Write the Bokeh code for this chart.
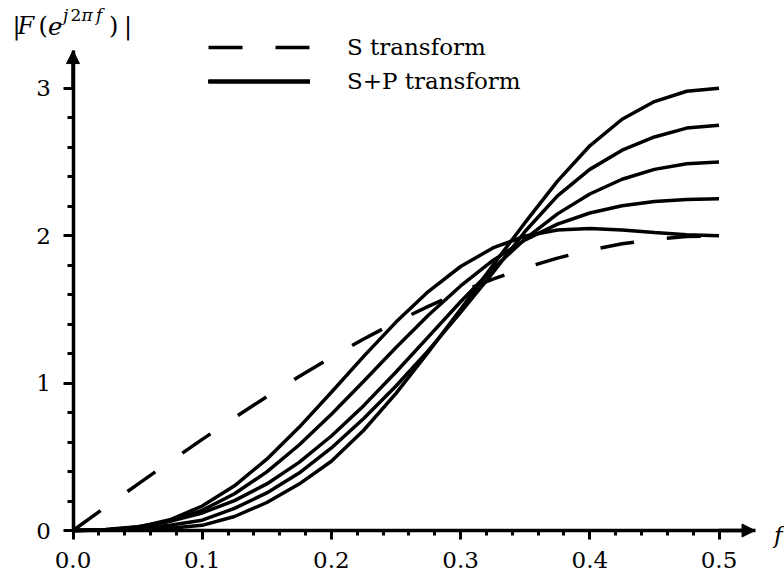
from bokeh.plotting import figure
from bokeh.models import (Range1d, FixedTicker, Legend, LegendItem, Label,
                          Arrow, NormalHead, PrintfTickFormatter)
from bokeh.embed import file_html
from bokeh.resources import INLINE

# ---- data ----
freq = [0.0, 0.025, 0.05, 0.075, 0.1, 0.125, 0.15, 0.175, 0.2, 0.225, 0.25,
        0.275, 0.3, 0.325, 0.35, 0.375, 0.4, 0.425, 0.45, 0.475, 0.5]

s_transform = [0.0, 0.157, 0.313, 0.467, 0.618, 0.765, 0.908, 1.045, 1.176, 1.299, 1.414,
               1.521, 1.618, 1.705, 1.782, 1.848, 1.902, 1.945, 1.975, 1.994, 2.0]

sp_end_200 = [0.0, 0.003, 0.023, 0.073, 0.166, 0.303, 0.484, 0.700, 0.938, 1.181, 1.414,
              1.621, 1.791, 1.917, 1.998, 2.039, 2.049, 2.039, 2.021, 2.006, 2.0]
sp_end_225 = [0.0, 0.004, 0.021, 0.063, 0.137, 0.249, 0.398, 0.580, 0.789, 1.013, 1.241,
              1.460, 1.659, 1.832, 1.972, 2.079, 2.154, 2.203, 2.232, 2.246, 2.25]
sp_end_250 = [0.0, 0.006, 0.026, 0.062, 0.119, 0.203, 0.316, 0.462, 0.641, 0.847, 1.075,
              1.314, 1.552, 1.776, 1.978, 2.148, 2.283, 2.383, 2.450, 2.488, 2.5]
sp_end_275 = [0.0, 0.003, 0.012, 0.035, 0.070, 0.150, 0.255, 0.390, 0.560, 0.760, 0.980,
              1.220, 1.480, 1.750, 2.030, 2.270, 2.450, 2.580, 2.670, 2.730, 2.75]
sp_end_300 = [0.0, 0.002, 0.006, 0.015, 0.035, 0.095, 0.190, 0.315, 0.470, 0.680, 0.930,
              1.210, 1.500, 1.800, 2.090, 2.370, 2.610, 2.790, 2.910, 2.980, 3.0]
sp_curves = [sp_end_200, sp_end_225, sp_end_250, sp_end_275, sp_end_300]

x_ticks = [0.0, 0.1, 0.2, 0.3, 0.4, 0.5]
x_minor_ticks = [0.02, 0.04, 0.06, 0.08, 0.12, 0.14, 0.16, 0.18, 0.22, 0.24, 0.26, 0.28,
                 0.32, 0.34, 0.36, 0.38, 0.42, 0.44, 0.46, 0.48]
y_ticks = [0, 1, 2, 3]
y_minor_ticks = [0.2, 0.4, 0.6, 0.8, 1.2, 1.4, 1.6, 1.8, 2.2, 2.4, 2.6, 2.8]

legend_labels = ["S transform", "S+P transform"]

# ---- figure: frame fills the canvas, axes sit at x=0 / y=0 ----
W, H = 784, 571
X0_PX, XSCALE = 72.5, 1292.0     # pixel of f=0, pixels per unit f
Y0_PX, YSCALE = 530.0, 147.4     # pixel (from top) of y=0, pixels per unit
x_lo = -X0_PX / XSCALE
x_hi = x_lo + W / XSCALE
y_lo = -(H - Y0_PX) / YSCALE
y_hi = y_lo + H / YSCALE
X_END = 0.5279     # end of the f axis (arrow tip)
Y_END = 3.256      # end of the value axis (arrow tip)

SERIF = "DejaVu Serif"
FS = "23px"
LW = 3.5

p = figure(width=W, height=H, output_backend="svg", toolbar_location=None,
           x_range=Range1d(x_lo, x_hi), y_range=Range1d(y_lo, y_hi),
           min_border=0, min_border_left=0, min_border_right=0,
           min_border_top=0, min_border_bottom=0)
p.grid.visible = False
p.outline_line_color = None
p.background_fill_color = "white"
p.border_fill_color = "white"

p.xaxis.fixed_location = 0
p.yaxis.fixed_location = 0
p.xaxis.bounds = (0, X_END)
p.yaxis.bounds = (0, Y_END)
p.xaxis.ticker = FixedTicker(ticks=x_ticks, minor_ticks=x_minor_ticks)
p.yaxis.ticker = FixedTicker(ticks=y_ticks, minor_ticks=y_minor_ticks)
p.xaxis.formatter = PrintfTickFormatter(format="%.1f")
p.yaxis.formatter = PrintfTickFormatter(format="%d")
for ax in (p.xaxis, p.yaxis):
    ax.axis_line_width = LW
    ax.axis_line_color = "black"
    ax.major_tick_line_width = 3
    ax.minor_tick_line_width = 3
    ax.major_tick_line_color = "black"
    ax.minor_tick_line_color = "black"
    ax.major_tick_in = 0
    ax.minor_tick_in = 0
    ax.major_label_text_font = SERIF
    ax.major_label_text_font_size = FS
    ax.major_label_text_color = "black"
p.xaxis.major_tick_out = 9
p.xaxis.minor_tick_out = 5
p.yaxis.major_tick_out = 10
p.yaxis.minor_tick_out = 6
p.xaxis.major_label_standoff = 12
p.yaxis.major_label_standoff = 12

# ---- curves ----
r_s = p.line(freq, s_transform, line_color="black", line_width=LW, line_dash="34 33")
r_sp = [p.line(freq, ys, line_color="black", line_width=LW) for ys in sp_curves]

# ---- arrow heads on the axes ----
p.add_layout(Arrow(end=NormalHead(size=13, fill_color="black", line_color="black", line_width=1),
                   x_start=0.5, y_start=0, x_end=X_END, y_end=0,
                   line_color="black", line_width=LW))
p.add_layout(Arrow(end=NormalHead(size=13, fill_color="black", line_color="black", line_width=1),
                   x_start=0, y_start=3.0, x_end=0, y_end=Y_END,
                   line_color="black", line_width=LW))

# ---- legend ----
legend = Legend(items=[LegendItem(label=legend_labels[0], renderers=[r_s]),
                       LegendItem(label=legend_labels[1], renderers=r_sp)],
                location=(208, 473), orientation="vertical",
                glyph_width=102, glyph_height=34, label_height=34, spacing=0,
                padding=0, margin=0, label_standoff=37,
                border_line_color=None, background_fill_alpha=0,
                label_text_font=SERIF, label_text_font_size=FS,
                label_text_color="black")
p.add_layout(legend)

# ---- axis titles ----
MAIN, SUP = "24px", "17px"
title_parts = [("|", "normal", MAIN, -60.5, 25), ("F", "italic", MAIN, -55.5, 25),
               ("(", "normal", MAIN, -34.5, 25), ("e", "italic", MAIN, -25, 25),
               ("j", "italic", SUP, -10, 36), ("2", "normal", SUP, -2.5, 36),
               ("\u03c0", "italic", SUP, 8.5, 36), ("f", "italic", SUP, 23, 36),
               (")", "normal", MAIN, 36, 25), ("|", "normal", MAIN, 51, 25)]
for txt, style, size, dx, dy in title_parts:
    p.add_layout(Label(x=0, y=Y_END, x_offset=dx, y_offset=dy, text=txt,
                       text_font=SERIF, text_font_style=style, text_font_size=size,
                       text_color="black", text_align="left", text_baseline="alphabetic"))

p.add_layout(Label(x=X_END, y=0, x_offset=19, y_offset=-4, text="f",
                   text_font=SERIF, text_font_style="italic", text_font_size=FS,
                   text_color="black", text_align="left", text_baseline="middle"))

open("out.html", "w").write(file_html(p, INLINE))
